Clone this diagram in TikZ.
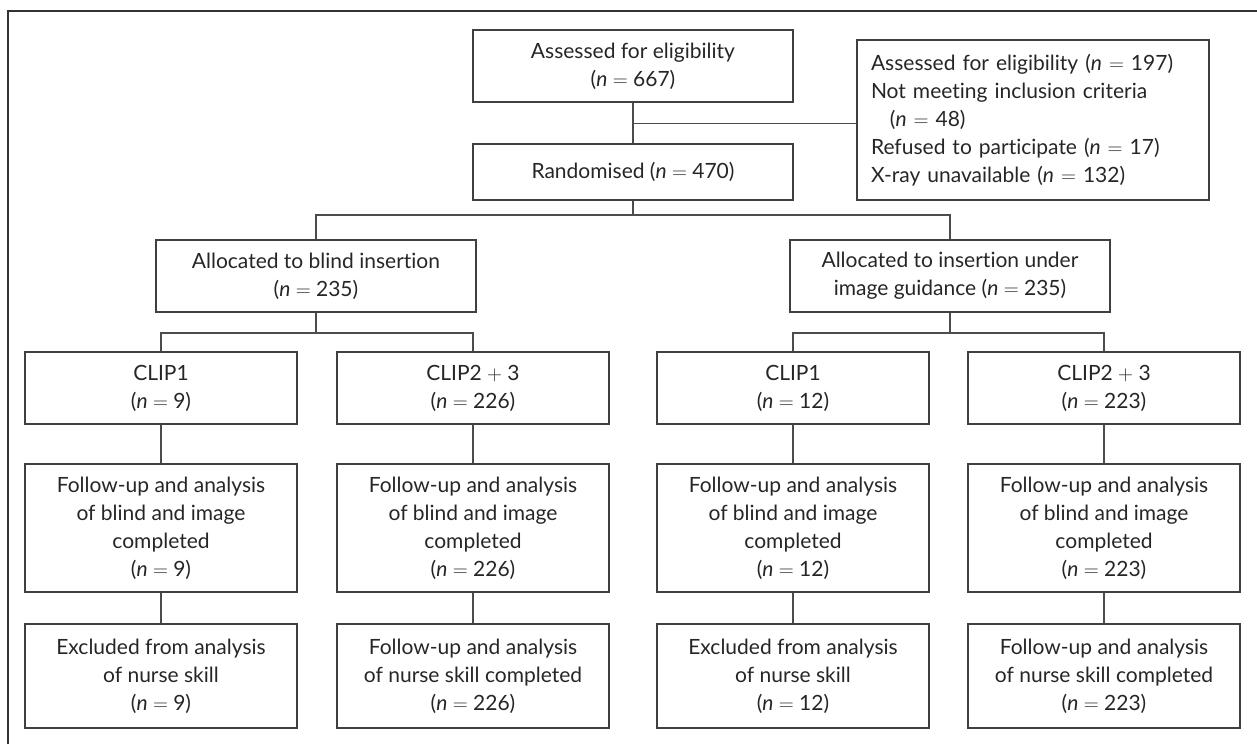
\documentclass[tikz,border=0pt]{standalone}
\usepackage{fontspec}
\setmainfont{Lato}[Ligatures={NoCommon,NoRequired,NoContextual}]
\newcommand{\nn}[1]{(\textit{n}\ $=$\ #1)}
\begin{document}
\begin{tikzpicture}[x=1pt,y=-1pt,
  every node/.style={font=\fontsize{21}{28}\selectfont, text=black!85},
  box/.style={draw=black!75, line width=1.3pt, align=center, inner sep=0pt, minimum width=#1},
  box/.default=272pt,
  conn/.style={draw=black!70, line width=1.3pt}]
\useasboundingbox (0,0) rectangle (1257,744);
\draw[black!80, line width=2pt] (8,744) -- (8,10.5) -- (1257,10.5);
% top
\node[box=320pt, minimum height=72pt] (a1) at (633,66) {Assessed for eligibility\\\nn{667}};
\node[box=352pt, minimum height=160pt, align=left, text width=324pt] (side) at (1033,120)
  {Assessed for eligibility \nn{197}\\Not meeting inclusion criteria\\\hspace*{0.9em}\nn{48}\\Refused to participate \nn{17}\\X-ray unavailable \nn{132}};
\node[box=320pt, minimum height=56pt] (rand) at (633,172) {Randomised \nn{470}};
% allocation
\node[box=320pt, minimum height=72pt] (blind) at (316,276) {Allocated to blind insertion\\\nn{235}};
\node[box=320pt, minimum height=72pt] (img) at (950,276) {Allocated to insertion under\\image guidance \nn{235}};
% CLIP row
\node[box, minimum height=72pt] (c1) at (161,388) {CLIP1\\\nn{9}};
\node[box, minimum height=72pt] (c2) at (473,388) {CLIP2 $+$ 3\\\nn{226}};
\node[box, minimum height=72pt] (c3) at (793,388) {CLIP1\\\nn{12}};
\node[box, minimum height=72pt] (c4) at (1104,388) {CLIP2 $+$ 3\\\nn{223}};
% follow-up row
\node[box, minimum height=128pt] (f1) at (161,528) {Follow-up and analysis\\of blind and image\\completed\\\nn{9}};
\node[box, minimum height=128pt] (f2) at (473,528) {Follow-up and analysis\\of blind and image\\completed\\\nn{226}};
\node[box, minimum height=128pt] (f3) at (793,528) {Follow-up and analysis\\of blind and image\\completed\\\nn{12}};
\node[box, minimum height=128pt] (f4) at (1104,528) {Follow-up and analysis\\of blind and image\\completed\\\nn{223}};
% last row
\node[box, minimum height=104pt] (e1) at (161,676) {Excluded from analysis\\of nurse skill\\\nn{9}};
\node[box, minimum height=104pt] (e2) at (473,676) {Follow-up and analysis\\of nurse skill completed\\\nn{226}};
\node[box, minimum height=104pt] (e3) at (793,676) {Excluded from analysis\\of nurse skill\\\nn{12}};
\node[box, minimum height=104pt] (e4) at (1104,676) {Follow-up and analysis\\of nurse skill completed\\\nn{223}};
% junctions
\coordinate (j1) at (633,123.5);
\coordinate (r1) at (633,215);
\coordinate (b1) at (316,333);
\coordinate (i1) at (950,333);
% connectors
\draw[conn] (a1.south) -- (rand.north);
\draw[conn] (j1) -- (j1 -| side.west);
\draw[conn] (rand.south) -- (r1);
\draw[conn] (blind.north) |- (r1) -| (img.north);
\draw[conn] (blind.south) -- (b1);
\draw[conn] (c1.north) |- (b1) -| (c2.north);
\draw[conn] (img.south) -- (i1);
\draw[conn] (c3.north) |- (i1) -| (c4.north);
\foreach \i in {1,2,3,4} {
  \draw[conn] (c\i.south) -- (f\i.north);
  \draw[conn] (f\i.south) -- (e\i.north);
}
\end{tikzpicture}
\end{document}
